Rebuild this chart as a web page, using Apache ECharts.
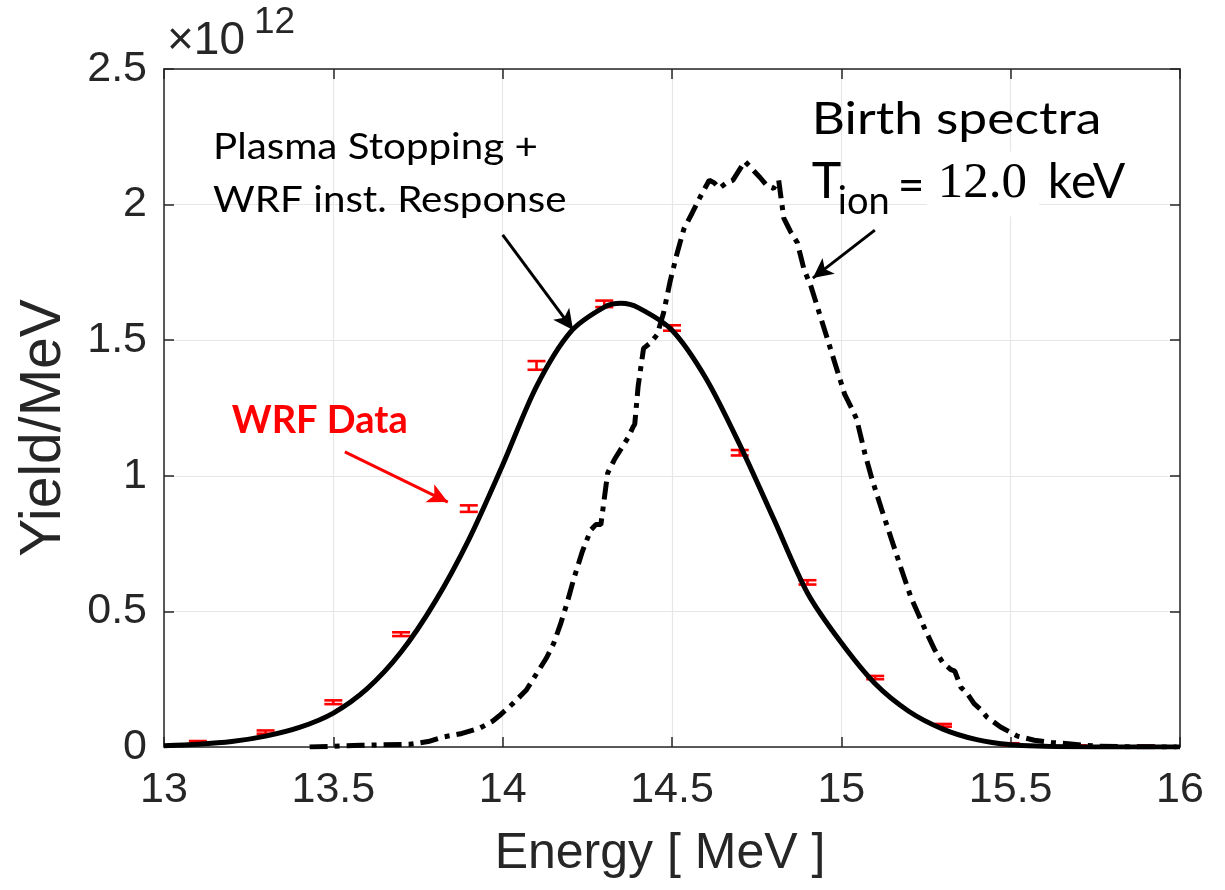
<!DOCTYPE html>
<html>
<head>
<meta charset="utf-8">
<script src="https://cdn.jsdelivr.net/npm/echarts@6/dist/echarts.min.js"></script>
<style>html,body{margin:0;padding:0;background:#fff}#c{width:1225px;height:890px}</style>
</head>
<body>
<div id="c"></div>
<script>
// ---- data (yield in units of 1e12 per MeV) ----
const xTickLabels = ['13', '13.5', '14', '14.5', '15', '15.5', '16'];
const yTickLabels = ['0', '0.5', '1', '1.5', '2', '2.5'];

const wrfEnergy = [13.1, 13.3, 13.5, 13.7, 13.9, 14.1, 14.3, 14.5, 14.7, 14.9, 15.1, 15.3, 15.5, 15.7, 15.9];
const wrfYield  = [0.016, 0.055, 0.165, 0.416, 0.879, 1.407, 1.634, 1.545, 1.085, 0.607, 0.256, 0.08, 0.01, 0.003, 0.002];
const wrfError  = [0.006, 0.006, 0.007, 0.007, 0.012, 0.016, 0.012, 0.01, 0.01, 0.008, 0.006, 0.005, 0.004, 0.003, 0.003];

const fitEnergy = [13.0, 13.1, 13.2, 13.3, 13.4, 13.5, 13.6, 13.7, 13.8, 13.9, 14.0, 14.1, 14.2, 14.3, 14.35, 14.4, 14.5, 14.6, 14.7, 14.8, 14.9, 15.0, 15.1, 15.2, 15.3, 15.4, 15.5, 15.6, 15.7, 15.8, 16.0];
const fitYield  = [0.005, 0.01, 0.02, 0.04, 0.072, 0.125, 0.215, 0.35, 0.535, 0.765, 1.04, 1.33, 1.53, 1.622, 1.636, 1.62, 1.537, 1.36, 1.115, 0.842, 0.568, 0.384, 0.233, 0.131, 0.066, 0.027, 0.008, 0.003, 0.001, 0.0, 0.0];

const birthEnergy = [13.43, 13.5, 13.58, 13.65, 13.726, 13.78, 13.825, 13.88, 13.933, 13.97, 13.99, 14.03, 14.07, 14.10, 14.13, 14.15, 14.17, 14.19, 14.21, 14.235, 14.26, 14.275, 14.29, 14.31, 14.33, 14.35, 14.37, 14.385, 14.39, 14.40, 14.416, 14.436, 14.456, 14.475, 14.495, 14.515, 14.535, 14.56, 14.584, 14.61, 14.625, 14.64, 14.66, 14.68, 14.70, 14.715, 14.73, 14.76, 14.78, 14.80, 14.815, 14.83, 14.85, 14.87, 14.89, 14.91, 14.94, 14.96, 14.98, 15.01, 15.03, 15.045, 15.07, 15.09, 15.118, 15.147, 15.176, 15.206, 15.245, 15.275, 15.30, 15.324, 15.335, 15.353, 15.37, 15.392, 15.41, 15.43, 15.47, 15.52, 15.57, 15.62, 15.67, 15.72, 15.76, 15.85, 15.99];
const birthYield  = [0.0, 0.003, 0.006, 0.008, 0.01, 0.02, 0.037, 0.05, 0.07, 0.095, 0.115, 0.16, 0.21, 0.27, 0.33, 0.38, 0.45, 0.53, 0.62, 0.72, 0.80, 0.82, 0.82, 1.01, 1.06, 1.10, 1.14, 1.18, 1.19, 1.33, 1.47, 1.49, 1.52, 1.60, 1.72, 1.82, 1.91, 1.97, 2.03, 2.09, 2.08, 2.06, 2.08, 2.09, 2.13, 2.16, 2.14, 2.10, 2.07, 2.06, 2.09, 1.95, 1.90, 1.86, 1.76, 1.70, 1.58, 1.50, 1.42, 1.30, 1.25, 1.21, 1.08, 0.99, 0.88, 0.77, 0.66, 0.55, 0.44, 0.36, 0.31, 0.285, 0.28, 0.22, 0.20, 0.16, 0.14, 0.11, 0.074, 0.04, 0.025, 0.017, 0.012, 0.006, 0.003, 0.001, 0.0];

// ---- styling ----
const AX = '#262626';
const SANS = 'Liberation Sans, Arial, sans-serif';
const ANN = 'Lato, sans-serif';

const chart = echarts.init(document.getElementById('c'), null, {renderer: 'canvas'});

function zip(a, b) { return a.map((v, i) => [v, b[i]]); }

const xLabelFmt = v => { const i = Math.round((v - 13) / 0.5); return xTickLabels[i] !== undefined ? xTickLabels[i] : ''; };
const yLabelFmt = v => { const i = Math.round(v / 0.5); return yTickLabels[i] !== undefined ? yTickLabels[i] : ''; };

const boxAxis = {
  axisLine: {show: true, onZero: false, lineStyle: {color: AX, width: 1.5}},
  axisTick: {show: true, inside: true, length: 10, lineStyle: {color: AX, width: 1.5}}
};

const option = {
  animation: false,
  backgroundColor: '#ffffff',
  grid: {left: 164, right: 45, top: 69, bottom: 143},
  xAxis: [
    Object.assign({
      type: 'value', min: 13, max: 16, interval: 0.5, position: 'bottom',
      axisLabel: {color: AX, fontSize: 43, fontFamily: SANS, margin: 22, formatter: xLabelFmt},
      splitLine: {show: true, lineStyle: {color: '#e6e6e6', width: 1.2}},
      name: 'Energy [ MeV ]', nameLocation: 'middle', nameGap: 82,
      nameTextStyle: {color: AX, fontSize: 50, fontFamily: SANS, padding: [0, 24, 0, 0]}
    }, boxAxis),
    Object.assign({
      type: 'value', min: 13, max: 16, interval: 0.5, position: 'top',
      axisLabel: {show: false}, splitLine: {show: false}
    }, boxAxis)
  ],
  yAxis: [
    Object.assign({
      type: 'value', min: 0, max: 2.5, interval: 0.5, position: 'left',
      axisLabel: {color: AX, fontSize: 43, fontFamily: SANS, margin: 17, formatter: yLabelFmt},
      splitLine: {show: true, lineStyle: {color: '#e6e6e6', width: 1.2}},
      name: 'Yield/MeV', nameLocation: 'middle', nameGap: 91, nameRotate: 90,
      nameTextStyle: {color: AX, fontSize: 57, fontFamily: SANS, padding: [0, 40, 0, 0]}
    }, boxAxis),
    Object.assign({
      type: 'value', min: 0, max: 2.5, interval: 0.5, position: 'right',
      axisLabel: {show: false}, splitLine: {show: false}
    }, boxAxis)
  ],
  series: [
    {
      type: 'custom', name: 'WRF Data', xAxisIndex: 0, yAxisIndex: 0, z: 2,
      data: wrfEnergy.map((e, i) => [e, wrfYield[i], wrfError[i]]),
      encode: {x: 0, y: 1},
      renderItem: function (params, api) {
        const x = api.value(0), y = api.value(1), er = api.value(2);
        const lo = api.coord([x, y - er]);
        const hi = api.coord([x, y + er]);
        const half = 9;
        const style = {stroke: '#ff0000', lineWidth: 2.6, fill: null};
        return {type: 'group', children: [
          {type: 'line', shape: {x1: lo[0], y1: lo[1], x2: hi[0], y2: hi[1]}, style: style},
          {type: 'line', shape: {x1: lo[0] - half, y1: lo[1], x2: lo[0] + half, y2: lo[1]}, style: style},
          {type: 'line', shape: {x1: hi[0] - half, y1: hi[1], x2: hi[0] + half, y2: hi[1]}, style: style}
        ]};
      },
      markLine: {
        silent: true, animation: false, symbol: ['none', 'arrow'], symbolSize: [15, 20],
        label: {show: false},
        lineStyle: {color: '#ff0000', width: 3, type: 'solid'},
        data: [[{coord: [13.534, 1.088]}, {coord: [13.838, 0.903]}]]
      }
    },
    {
      type: 'line', name: 'Plasma Stopping + WRF inst. Response', xAxisIndex: 0, yAxisIndex: 0, z: 4,
      data: zip(fitEnergy, fitYield), showSymbol: false, smooth: 0.3,
      lineStyle: {color: '#000000', width: 5}
    },
    {
      type: 'line', name: 'Birth spectra', xAxisIndex: 0, yAxisIndex: 0, z: 3,
      data: zip(birthEnergy, birthYield), showSymbol: false,
      lineStyle: {color: '#000000', width: 5, type: [18, 7, 5, 7], cap: 'butt'},
      markLine: {
        silent: true, animation: false, symbol: ['none', 'arrow'], symbolSize: [15, 20],
        label: {show: false},
        lineStyle: {color: '#000000', width: 3, type: 'solid'},
        data: [
          [{coord: [14.0, 1.888]}, {coord: [14.208, 1.538]}],
          [{coord: [15.099, 1.906]}, {coord: [14.916, 1.729]}]
        ]
      }
    }
  ]
};

chart.setOption(option);

function P(e, v) { return chart.convertToPixel({xAxisIndex: 0, yAxisIndex: 0}, [e, v]); }

const a1 = P(13.145, 2.212);
const a2 = P(13.145, 2.017);
const b1 = P(14.913, 2.312);
const t1 = P(14.913, 2.083);
const w1 = P(13.2, 1.203);
const m1 = P(13.0, 2.5);

function txt(x, y, text, size, family, color, extra, sx) {
  return {
    type: 'text', x: x, y: y, z: 100, scaleX: sx || 1,
    style: Object.assign({text: text, fontSize: size, fontFamily: family, fill: color || '#000',
      textAlign: 'left', textVerticalAlign: 'middle'}, extra || {})
  };
}

chart.setOption({
  graphic: [
    txt(a1[0], a1[1], 'Plasma Stopping +', 36, ANN, '#000', null, 1.12),
    txt(a2[0], a2[1], 'WRF inst. Response', 36, ANN, '#000', null, 1.12),
    txt(b1[0], b1[1], 'Birth spectra', 44, ANN, '#000', null, 1.17),
    txt(t1[0], t1[1], 'T', 50, ANN, '#000'),
    txt(t1[0] + 26, t1[1] + 20, 'ion', 38, ANN, '#000'),
    txt(t1[0] + 86, t1[1] + 4, '=', 46, ANN, '#000'),
    txt(t1[0] + 115, t1[1] + 2, '12.0', 51, 'Liberation Serif, serif', '#000',
        {backgroundColor: '#ffffff', padding: [7, 12, 7, 11]}),
    txt(t1[0] + 236, t1[1], 'keV', 48, ANN, '#000'),
    txt(w1[0], w1[1], 'WRF Data', 38, ANN, '#ff0000', {fontWeight: 'bold'}),
    txt(m1[0] + 3, m1[1] - 28, '\u00d710', 46, SANS, AX),
    txt(m1[0] + 90, m1[1] - 46, '12', 37, SANS, AX)
  ]
});
</script>
</body>
</html>
